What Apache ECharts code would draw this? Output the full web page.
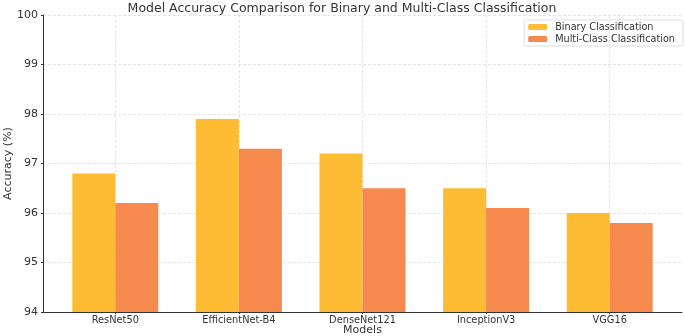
<!DOCTYPE html>
<html>
<head>
    <meta charset="utf-8">
    <title>accuracy</title>
    <script src="https://cdn.jsdelivr.net/npm/echarts@6/dist/echarts.min.js"></script>
</head>
<body style="margin:0">
    <div id="chart" style="width: 685px;height:336px;"></div>
    <script type="text/javascript">
        var models = ['ResNet50', 'EfficientNet-B4', 'DenseNet121', 'InceptionV3', 'VGG16'];
        var binary = [96.8, 97.9, 97.2, 96.5, 96.0];
        var multi = [96.2, 97.3, 96.5, 96.1, 95.8];
        var yTicks = [94, 95, 96, 97, 98, 99, 100];

        var font = 'DejaVu Sans';
        var idx = models.map(function (m, i) { return i; });
        function pairs(vals) {
            return vals.map(function (v, i) { return [i, v]; });
        }

        var myChart = echarts.init(document.getElementById('chart'));
        var option = {
            animation: false,
            title: {
                text: 'Model Accuracy Comparison for Binary and Multi-Class Classification',
                left: 337,
                textAlign: 'center',
                top: -3,
                textStyle: { fontFamily: font, fontSize: 12.5, fontWeight: 'normal', color: '#333' }
            },
            legend: {
                orient: 'vertical',
                right: 2,
                top: 20,
                itemWidth: 19,
                itemHeight: 6,
                itemGap: 2,
                padding: [2, 8, 2, 4],
                borderColor: '#ddd',
                borderWidth: 1,
                borderRadius: 2,
                textStyle: { fontFamily: font, fontSize: 9.7, color: '#333', padding: [0, 0, 0, 3] },
                data: ['Binary Classification', 'Multi-Class Classification']
            },
            grid: { left: 43, right: 3, top: 15, bottom: 24, outerBoundsMode: 'none' },
            xAxis: {
                type: 'value',
                min: -0.585,
                max: 4.585,
                name: 'Models',
                nameLocation: 'middle',
                nameGap: 13,
                nameMoveOverlap: false,
                nameTextStyle: { fontFamily: font, fontSize: 11, color: '#333' },
                axisLine: { show: true, onZero: false, lineStyle: { color: '#333', width: 1 } },
                axisTick: { show: true, customValues: idx, length: 2, lineStyle: { color: '#333' } },
                axisLabel: {
                    customValues: idx,
                    fontFamily: font, fontSize: 9.8, color: '#333', margin: 3,
                    formatter: function (v) { return models[Math.round(v)]; }
                },
                splitLine: { show: true, lineStyle: { color: '#ddd', type: [3, 2], width: 0.8 } }
            },
            yAxis: {
                type: 'value',
                min: yTicks[0],
                max: yTicks[yTicks.length - 1],
                interval: 1,
                name: 'Accuracy (%)',
                nameLocation: 'middle',
                nameGap: 29,
                nameMoveOverlap: false,
                nameTextStyle: { fontFamily: font, fontSize: 11, color: '#333' },
                axisLine: { show: true, onZero: false, lineStyle: { color: '#333', width: 1 } },
                axisTick: { show: true, length: 2, lineStyle: { color: '#333' } },
                axisLabel: { fontFamily: font, fontSize: 11, color: '#333', margin: 5 },
                splitLine: { show: true, lineStyle: { color: '#ddd', type: [3, 2], width: 0.8 } }
            },
            series: [{
                name: 'Binary Classification',
                type: 'bar',
                barWidth: 43,
                barGap: '0%',
                itemStyle: { color: '#FDBC33' },
                data: pairs(binary)
            }, {
                name: 'Multi-Class Classification',
                type: 'bar',
                barWidth: 43,
                barGap: '0%',
                itemStyle: { color: '#F5894E' },
                data: pairs(multi)
            }]
        };
        myChart.setOption(option);
    </script>
</body>
</html>
